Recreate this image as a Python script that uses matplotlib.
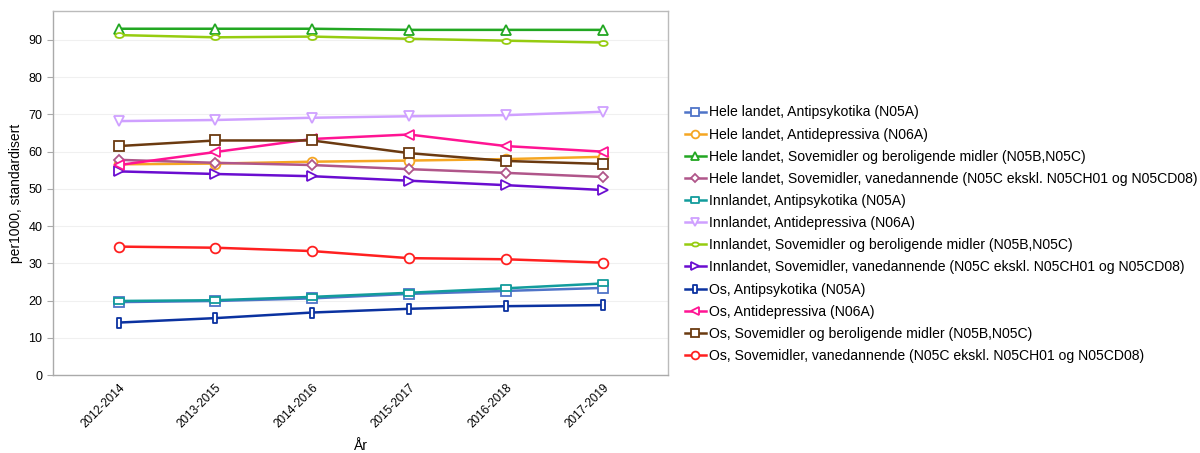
import matplotlib
matplotlib.use("Agg")
import matplotlib.pyplot as plt
from matplotlib.path import Path
from matplotlib.transforms import Affine2D

plt.rcParams["font.family"] = ["Liberation Sans", "DejaVu Sans"]

years = ["2012-2014", "2013-2015", "2014-2016", "2015-2017", "2016-2018", "2017-2019"]

labels = [
    "Hele landet, Antipsykotika (N05A)",
    "Hele landet, Antidepressiva (N06A)",
    "Hele landet, Sovemidler og beroligende midler (N05B,N05C)",
    "Hele landet, Sovemidler, vanedannende (N05C ekskl. N05CH01 og N05CD08)",
    "Innlandet, Antipsykotika (N05A)",
    "Innlandet, Antidepressiva (N06A)",
    "Innlandet, Sovemidler og beroligende midler (N05B,N05C)",
    "Innlandet, Sovemidler, vanedannende (N05C ekskl. N05CH01 og N05CD08)",
    "Os, Antipsykotika (N05A)",
    "Os, Antidepressiva (N06A)",
    "Os, Sovemidler og beroligende midler (N05B,N05C)",
    "Os, Sovemidler, vanedannende (N05C ekskl. N05CH01 og N05CD08)",
]

hele_antipsyk = [19.6, 19.9, 20.6, 21.8, 22.6, 23.4]
hele_antidep = [56.6, 56.8, 57.3, 57.6, 58.0, 58.6]
hele_sovemidler = [93.0, 93.0, 93.0, 92.7, 92.7, 92.7]
hele_vanedann = [57.8, 57.0, 56.4, 55.3, 54.3, 53.2]
inn_antipsyk = [19.9, 20.1, 21.0, 22.1, 23.3, 24.6]
inn_antidep = [68.2, 68.5, 69.1, 69.5, 69.8, 70.7]
inn_sovemidler = [91.3, 90.7, 90.9, 90.3, 89.8, 89.3]
inn_vanedann = [54.7, 54.0, 53.4, 52.2, 51.0, 49.7]
os_antipsyk = [14.1, 15.3, 16.8, 17.8, 18.5, 18.8]
os_antidep = [56.4, 59.9, 63.4, 64.6, 61.5, 60.0]
os_sovemidler = [61.5, 63.0, 63.0, 59.6, 57.5, 56.7]
os_vanedann = [34.5, 34.2, 33.3, 31.4, 31.1, 30.2]

series = [hele_antipsyk, hele_antidep, hele_sovemidler, hele_vanedann,
          inn_antipsyk, inn_antidep, inn_sovemidler, inn_vanedann,
          os_antipsyk, os_antidep, os_sovemidler, os_vanedann]

colors = ["#4f74c8", "#f5a623", "#22a722", "#b0568a",
          "#129c9c", "#cfa0ff", "#96cc10", "#6a0dd0",
          "#0b32a0", "#ff1493", "#6b3a10", "#ff2020"]

# custom marker shapes: thin upright box, flat box, flat oval
tall_rect = Path([(-0.4, -1), (0.4, -1), (0.4, 1), (-0.4, 1), (-0.4, -1)], closed=True)
flat_rect = Path([(-1, -0.65), (1, -0.65), (1, 0.65), (-1, 0.65), (-1, -0.65)], closed=True)
oval = Path.unit_circle().transformed(Affine2D().scale(1, 0.6))

markers = ["s", "o", "^", "D", flat_rect, "v", oval, ">", tall_rect, "<", "s", "o"]
msizes = [6.5, 7, 7, 5, 7, 7, 6, 7, 7, 7, 7, 7]

fig = plt.figure(figsize=(12, 4.53), dpi=100)
ax = fig.add_axes([0.044, 0.172, 0.513, 0.804])

x = list(range(len(years)))
for vals, lab, col, mk, ms in zip(series, labels, colors, markers, msizes):
    ax.plot(x, vals, color=col, lw=1.8, marker=mk, markersize=ms,
            markerfacecolor="white", markeredgecolor=col, markeredgewidth=1.3,
            label=lab)

ax.set_xlim(-0.68, 5.68)
ax.set_ylim(0, 97.8)
ax.set_yticks(range(0, 100, 10))
ax.set_xticks(x)
ax.set_xticklabels(years, rotation=45, ha="right", rotation_mode="anchor", fontsize=8.5)
ax.tick_params(axis="y", labelsize=9, length=4, color="#aaaaaa")
ax.tick_params(axis="x", length=0, pad=5)
ax.grid(axis="y", color="#f0f0f0", lw=0.8)
ax.set_axisbelow(True)
for s in ax.spines.values():
    s.set_color("#bbbbbb")
    s.set_linewidth(1)
ax.spines["left"].set_color("#aaaaaa")
ax.spines["bottom"].set_color("#aaaaaa")

ax.set_ylabel("per1000, standardisert", fontsize=10)
ax.set_xlabel("År", fontsize=10, labelpad=6)

ax.legend(loc="center left", bbox_to_anchor=(0.566, 0.483), bbox_transform=fig.transFigure,
          frameon=False, fontsize=10.1, handlelength=1.5, handletextpad=0.2,
          labelspacing=0.58, borderaxespad=0, markerscale=0.8)

fig.savefig("out.png", dpi=100)
